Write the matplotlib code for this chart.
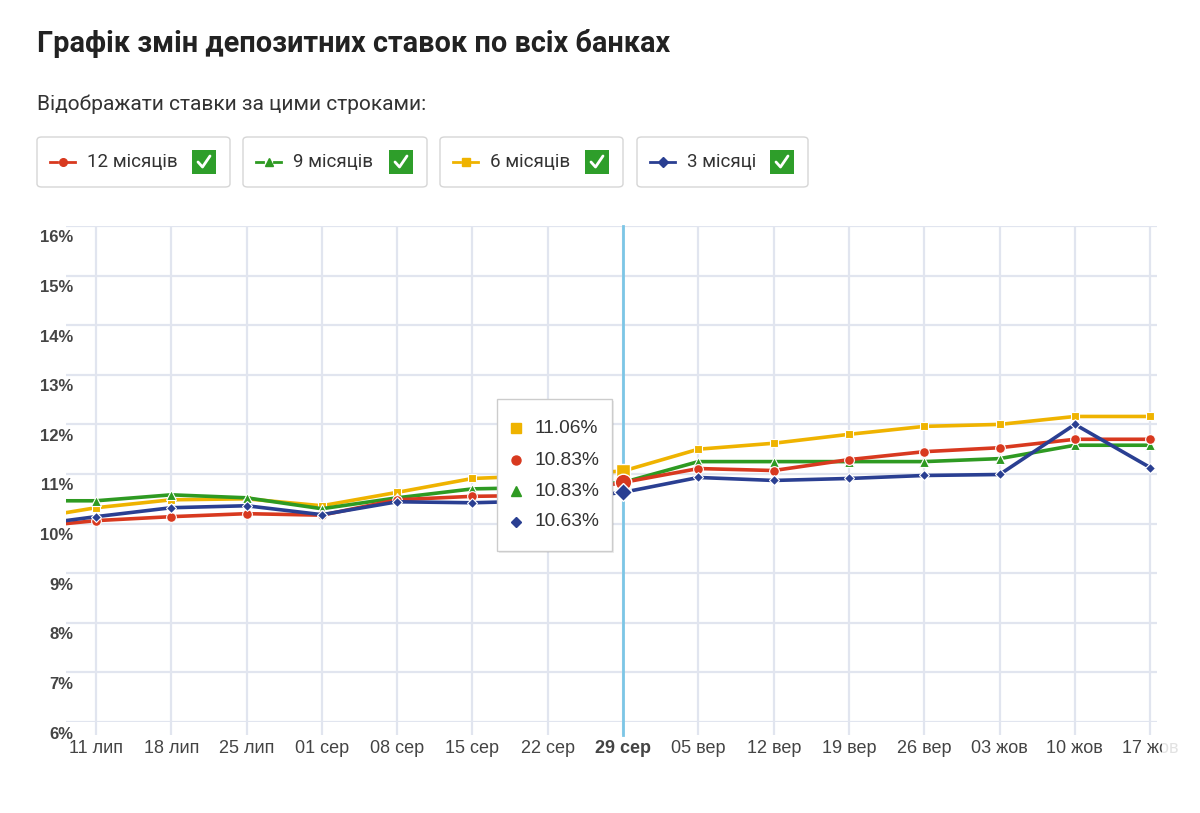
import numpy as np
import matplotlib
matplotlib.use("Agg")
import matplotlib.pyplot as plt
from matplotlib.patches import FancyBboxPatch, Rectangle
from matplotlib.lines import Line2D
import matplotlib.transforms as mtransforms

plt.rcParams['font.family'] = ['Liberation Sans', 'DejaVu Sans']

# tick labels (first data point, 04 лип, sits just off the left edge)
dates = ['11 лип', '18 лип', '25 лип', '01 сер', '08 сер', '15 сер', '22 сер', '29 сер',
         '05 вер', '12 вер', '19 вер', '26 вер', '03 жов', '10 жов', '17 жов']
rate_12 = [9.91, 10.06, 10.14, 10.20, 10.17, 10.48, 10.55, 10.57, 10.83, 11.11, 11.07, 11.29, 11.45, 11.53, 11.70, 11.70]
rate_9 = [10.46, 10.46, 10.58, 10.52, 10.30, 10.52, 10.70, 10.73, 10.83, 11.25, 11.25, 11.25, 11.25, 11.31, 11.58, 11.58]
rate_6 = [10.07, 10.32, 10.48, 10.50, 10.36, 10.63, 10.91, 10.97, 11.06, 11.50, 11.62, 11.80, 11.96, 12.00, 12.16, 12.16]
rate_3 = [9.94, 10.14, 10.32, 10.36, 10.18, 10.44, 10.42, 10.46, 10.63, 10.93, 10.87, 10.91, 10.97, 10.99, 12.00, 11.13]
selected = 7  # 29 сер

RED = '#d8391f'
GREEN = '#2e9a22'
YELLOW = '#efb300'
BLUE = '#2a3f92'
GRID = '#e1e5ef'

W, H = 1200, 813
fig = plt.figure(figsize=(W / 100, H / 100), dpi=100)


def px(x, y):
    return x / W, 1 - y / H


ax = fig.add_axes([66 / W, 1 - 722 / H, (1157 - 66) / W, (722 - 226) / H])
x = np.arange(len(rate_12)) - 1

series = [(rate_6, YELLOW, 's', 6), (rate_9, GREEN, '^', 7), (rate_12, RED, 'o', 7), (rate_3, BLUE, 'D', 5.5)]
for vals, col, mk, ms in series:
    ax.plot(x, vals, color=col, lw=2.6, marker=mk, ms=ms, mec='white', mew=0.8, zorder=3)
    ax.plot(x[selected + 1], vals[selected + 1], marker=mk, color=col, ms=ms * 1.7,
            mec='white', mew=1, zorder=4)

ax.set_xlim(-0.398, 14.09)
ax.set_ylim(6, 16)
ax.set_yticks(range(6, 17))
ax.set_yticklabels([])
ax.set_xticks(range(len(dates)))
ax.set_xticklabels(dates, fontsize=13, color='#444444')
ax.get_xticklabels()[selected].set_fontweight('bold')
ax.tick_params(axis='x', length=9, width=1.6, color=GRID, pad=4)
ax.tick_params(axis='y', length=0)
ax.grid(True, color=GRID, lw=1.6)
ax.set_axisbelow(True)
for s in ax.spines.values():
    s.set_visible(False)

ax.axvline(selected, ymin=-0.026, ymax=1, color='#7cc6e6', lw=2, clip_on=False, zorder=2)

# y labels sit a bit below their gridlines
off = mtransforms.ScaledTranslation(0, -12 / 100, fig.dpi_scale_trans)
tr = mtransforms.blended_transform_factory(ax.transAxes, ax.transData) + off
for v in range(6, 17):
    ax.text(0.0065, v, f'{v}%', transform=tr, ha='right', va='center',
            fontsize=12, fontweight='bold', color='#444444')

# title and subtitle
fig.text(*px(37, 43), 'Графік змін депозитних ставок по всіх банках', fontsize=20.8,
         fontweight='bold', family=['Roboto', 'DejaVu Sans'], color='#222222', va='center')
fig.text(*px(37, 104), 'Відображати ставки за цими строками:', fontsize=15,
         family=['Roboto', 'DejaVu Sans'], color='#333333', va='center')

# legend boxes
legend = [('12 місяців', RED, 'o', 37, 230), ('9 місяців', GREEN, '^', 243, 427),
          ('6 місяців', YELLOW, 's', 440, 623), ('3 місяці', BLUE, 'D', 637, 808)]
for label, col, mk, x0, x1 in legend:
    bx, by = px(x0, 187)
    fig.add_artist(FancyBboxPatch((bx, by), (x1 - x0) / W, 50 / H,
                                  boxstyle='round,pad=0,rounding_size=0.004',
                                  transform=fig.transFigure, fc='white', ec='#d6d6d6', lw=1))
    for a, b in [(13, 20), (31, 38)]:
        fig.add_artist(Line2D([(x0 + a) / W, (x0 + b) / W], [1 - 162 / H] * 2, color=col, lw=2,
                              transform=fig.transFigure))
    fig.add_artist(Line2D([(x0 + 25.5) / W], [1 - 162 / H], marker=mk, color=col, ms=5.5,
                          transform=fig.transFigure))
    fig.text(*px(x0 + 50, 162), label, fontsize=13.5, family=['Roboto', 'DejaVu Sans'],
             color='#333333', va='center')
    cx = x1 - 38
    cb = px(cx, 174)
    fig.add_artist(Rectangle(cb, 24 / W, 24 / H, transform=fig.transFigure, fc='#2e9e2a', ec='none'))
    fig.add_artist(Line2D([(cx + 6) / W, (cx + 10.5) / W, (cx + 18) / W],
                          [1 - 162 / H, 1 - 167 / H, 1 - 156 / H], color='white', lw=2,
                          transform=fig.transFigure, solid_capstyle='round'))

# tooltip
tx, ty = px(497, 551)
fig.add_artist(FancyBboxPatch((tx + 2 / W, ty - 2 / H), 115 / W, 152 / H, boxstyle='square,pad=0',
                              transform=fig.transFigure, fc='#00000012', ec='none', zorder=5))
fig.add_artist(FancyBboxPatch((tx, ty), 115 / W, 152 / H, boxstyle='square,pad=0',
                              transform=fig.transFigure, fc='white', ec='#cccccc', lw=1, zorder=6))
tip = [(rate_6, YELLOW, 's', 428), (rate_12, RED, 'o', 460), (rate_9, GREEN, '^', 491), (rate_3, BLUE, 'D', 522)]
for vals, col, mk, yy in tip:
    fig.add_artist(Line2D([516 / W], [1 - yy / H], marker=mk, color=col, ms=6.5 if mk != 'D' else 5,
                          transform=fig.transFigure, zorder=7))
    fig.text(*px(535, yy), f'{vals[selected + 1]:.2f}%', fontsize=13.8, color='#333333',
             va='center', zorder=7)

# fade at right edge
fig.add_artist(Rectangle(px(1162, 775), 40 / W, 50 / H, transform=fig.transFigure,
                         fc='white', ec='none', alpha=0.85, zorder=8))

fig.savefig('out.png', dpi=100, facecolor='white')
